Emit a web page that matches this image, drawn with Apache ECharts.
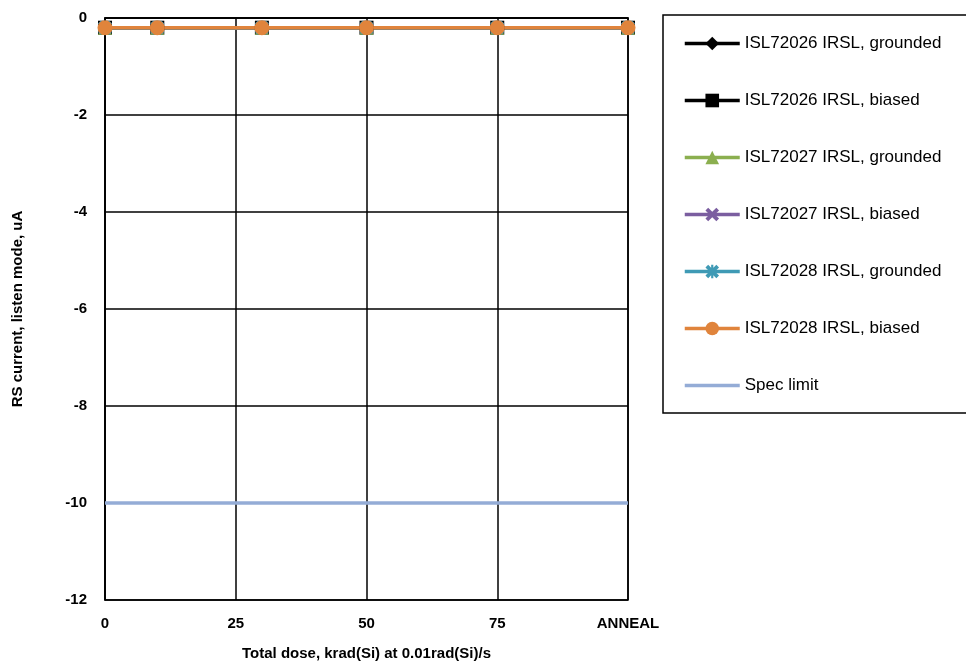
<!DOCTYPE html>
<html><head><meta charset="utf-8">
<script src="https://cdn.jsdelivr.net/npm/echarts@6/dist/echarts.min.js"></script>
<style>html,body{margin:0;padding:0;background:#fff}#c{width:966px;height:667px}</style>
</head><body><div id="c"></div>
<script>
var doses = [0, 10, 30, 50, 75, 100];
var xTicks = {0:'0', 25:'25', 50:'50', 75:'75', 100:'ANNEAL'};
var isl72026Grounded = [-0.2, -0.2, -0.2, -0.2, -0.2, -0.2];
var isl72026Biased   = [-0.2, -0.2, -0.2, -0.2, -0.2, -0.2];
var isl72027Grounded = [-0.2, -0.2, -0.2, -0.2, -0.2, -0.2];
var isl72027Biased   = [-0.2, -0.2, -0.2, -0.2, -0.2, -0.2];
var isl72028Grounded = [-0.2, -0.2, -0.2, -0.2, -0.2, -0.2];
var isl72028Biased   = [-0.2, -0.2, -0.2, -0.2, -0.2, -0.2];
var specX = [0, 100];
var specLimit = [-10, -10];

function pts(xs, ys){ return xs.map(function(x,i){return [x, ys[i]];}); }
var xPath = 'path://M2,0 L5,3 L8,0 L10,2 L7,5 L10,8 L8,10 L5,7 L2,10 L0,8 L3,5 L0,2 Z';
var starPath = 'path://M2,0 L4.2,2.2 L4.2,0 L5.8,0 L5.8,2.2 L8,0 L10,2 L7,5 L10,8 L8,10 L5.8,7.8 L5.8,10 L4.2,10 L4.2,7.8 L2,10 L0,8 L3,5 L0,2 Z';

function ser(name, data, color, symbol, size){
  return {name:name, type:'line', data:pts(doses, data), symbol:symbol, symbolSize:size,
    lineStyle:{color:color, width:3.5}, itemStyle:{color:color}, z:3};
}
var font = 'Liberation Sans, Arial';
var chart = echarts.init(document.getElementById('c'));
chart.setOption({
  animation:false,
  backgroundColor:'#fff',
  grid:{left:105, top:18, right:338, bottom:67, show:true, borderColor:'#000', borderWidth:1.5},
  legend:{
    orient:'vertical', left:663, top:15,
    padding:[20, 40, 19, 20], itemGap:40, itemWidth:55, itemHeight:17,
    borderColor:'#000', borderWidth:1.5,
    lineStyle:{width:3.5},
    textStyle:{fontFamily:font, fontSize:17, color:'#000'},
    data:['ISL72026 IRSL, grounded','ISL72026 IRSL, biased','ISL72027 IRSL, grounded','ISL72027 IRSL, biased','ISL72028 IRSL, grounded','ISL72028 IRSL, biased',
      {name:'Spec limit', itemStyle:{opacity:0}}]
  },
  xAxis:{type:'value', min:0, max:100, interval:25,
    name:'Total dose, krad(Si) at 0.01rad(Si)/s', nameLocation:'middle', nameGap:46,
    nameTextStyle:{fontFamily:font, fontWeight:'bold', fontSize:15, color:'#000'},
    axisLine:{lineStyle:{color:'#000', width:1.5}}, axisTick:{show:false},
    axisLabel:{formatter:function(v){return xTicks[v]!==undefined?xTicks[v]:'';}, margin:16,
      fontFamily:font, fontWeight:'bold', fontSize:15, color:'#000'},
    splitLine:{show:true, lineStyle:{color:'#000', width:1.5}}},
  yAxis:{type:'value', min:-12, max:0, interval:2,
    name:'RS current, listen mode, uA', nameLocation:'middle', nameGap:80, nameRotate:90,
    nameTextStyle:{fontFamily:font, fontWeight:'bold', fontSize:15, color:'#000'},
    axisLine:{show:true, lineStyle:{color:'#000', width:1.5}}, axisTick:{show:false},
    axisLabel:{margin:18, fontFamily:font, fontWeight:'bold', fontSize:15, color:'#000'},
    splitLine:{show:true, lineStyle:{color:'#000', width:1.5}}},
  series:[
    ser('ISL72026 IRSL, grounded', isl72026Grounded, '#000000', 'diamond', 13),
    ser('ISL72026 IRSL, biased', isl72026Biased, '#000000', 'rect', 14),
    ser('ISL72027 IRSL, grounded', isl72027Grounded, '#8BAF4F', 'triangle', 14),
    ser('ISL72027 IRSL, biased', isl72027Biased, '#7B5EA0', xPath, 13),
    ser('ISL72028 IRSL, grounded', isl72028Grounded, '#3F9AB5', starPath, 14),
    ser('ISL72028 IRSL, biased', isl72028Biased, '#E0843C', 'circle', 15),
    {name:'Spec limit', type:'line', data:pts(specX, specLimit), symbol:'none',
      lineStyle:{color:'#94ACD6', width:3.5}, itemStyle:{color:'#94ACD6'}, z:2}
  ]
});
</script></body></html>
